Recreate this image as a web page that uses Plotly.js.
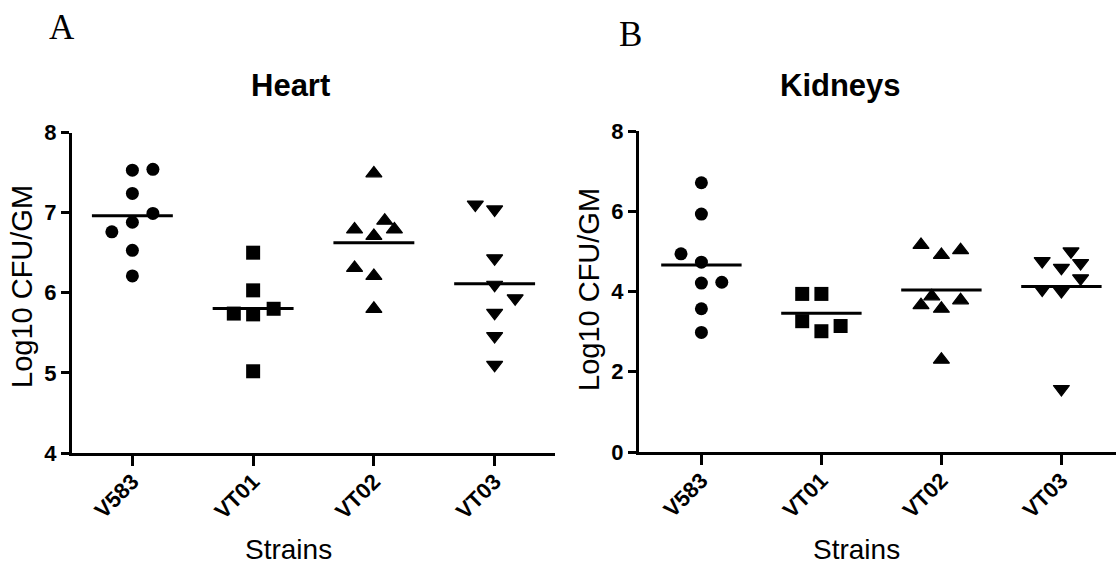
<!DOCTYPE html>
<html>
<head>
<meta charset="utf-8">
<script src="https://cdn.plot.ly/plotly-3.0.1.min.js"></script>
<style>
  html, body { margin: 0; padding: 0; background: #ffffff; }
  #chart { width: 1116px; height: 565px; }
</style>
</head>
<body>
<div id="chart"></div>
<script>
// Bacterial load (log10 CFU per gram of tissue) for each strain
const strains = ["V583", "VT01", "VT02", "VT03"];

// Heart
const heartV583 = [7.53, 7.54, 7.24, 6.99, 6.88, 6.76, 6.53, 6.21];
const heartVT01 = [6.50, 6.03, 5.74, 5.73, 5.80, 5.02];
const heartVT02 = [7.49, 6.79, 6.90, 6.79, 6.71, 6.31, 6.21, 5.80];
const heartVT03 = [7.10, 7.04, 6.43, 6.10, 5.93, 5.75, 5.46, 5.10];

// Kidneys
const kidneyV583 = [6.71, 5.93, 4.94, 4.73, 4.21, 4.23, 3.57, 2.98];
const kidneyVT01 = [3.94, 3.94, 3.26, 3.01, 3.14];
const kidneyVT02 = [5.16, 4.91, 5.03, 3.88, 3.66, 3.57, 3.78, 2.30];
const kidneyVT03 = [4.76, 4.59, 5.00, 4.71, 4.33, 4.05, 4.01, 1.57];

// Horizontal spread of tied points within each column (category units)
const heartSpreadV583 = [0, 0.17, 0, 0.17, 0, -0.17, 0, 0];
const heartSpreadVT01 = [0, 0, -0.16, 0, 0.17, 0];
const heartSpreadVT02 = [0, -0.16, 0.09, 0.17, 0, -0.16, 0, 0];
const heartSpreadVT03 = [-0.16, 0, 0, 0, 0.17, 0, 0, 0];
const kidneySpreadV583 = [0, 0, -0.17, 0, 0, 0.17, 0, 0];
const kidneySpreadVT01 = [-0.16, 0, -0.16, 0, 0.16];
const kidneySpreadVT02 = [-0.17, 0, 0.16, -0.08, -0.17, 0, 0.16, 0];
const kidneySpreadVT03 = [-0.16, 0, 0.08, 0.16, 0.16, -0.16, 0, 0];

const symbols = ["circle", "square", "triangle-up", "triangle-down"];
const symbolSizes = [13, 14, 14, 14];
const symbolOutline = [0, 0, 1.2, 1.2];

const FONT = "Liberation Sans, Arial, Helvetica, sans-serif";
const SERIF = "Liberation Serif, Times New Roman, serif";
const W = 1116, H = 565;
const px = x => x / W;          // pixel -> paper x
const py = y => 1 - y / H;      // pixel -> paper y

const mean = a => a.reduce((s, v) => s + v, 0) / a.length;

function panelTraces(groups, spreads, xa, ya) {
  const traces = [];
  groups.forEach((vals, i) => {
    traces.push({
      type: "scatter", mode: "markers", xaxis: xa, yaxis: ya,
      x: vals.map((v, k) => i + spreads[i][k]), y: vals,
      marker: { symbol: symbols[i], size: symbolSizes[i], color: "#000000",
                line: { width: symbolOutline[i], color: "#000000" } },
      hoverinfo: "y", cliponaxis: false
    });
    const m = mean(vals);
    traces.push({
      type: "scatter", mode: "lines", xaxis: xa, yaxis: ya,
      x: [i - 0.335, i + 0.335], y: [m, m],
      line: { color: "#000000", width: 3 }, hoverinfo: "skip"
    });
  });
  return traces;
}

const data = [].concat(
  panelTraces([heartV583, heartVT01, heartVT02, heartVT03],
              [heartSpreadV583, heartSpreadVT01, heartSpreadVT02, heartSpreadVT03], "x", "y"),
  panelTraces([kidneyV583, kidneyVT01, kidneyVT02, kidneyVT03],
              [kidneySpreadV583, kidneySpreadVT01, kidneySpreadVT02, kidneySpreadVT03], "x2", "y2")
);

function xAxis(domain, range, anchor) {
  return {
    domain: domain, range: range, anchor: anchor,
    tickmode: "array", tickvals: [0, 1, 2, 3], ticktext: strains,
    tickangle: -45, ticks: "outside", ticklen: 10, tickwidth: 3, tickcolor: "#000",
    ticklabelstandoff: -6,
    showline: true, linewidth: 3, linecolor: "#000",
    showgrid: false, zeroline: false, fixedrange: true,
    tickfont: { family: FONT, size: 22, color: "#000", weight: "bold" }
  };
}
function yAxis(domain, range, dtick, anchor) {
  return {
    domain: domain, range: range, anchor: anchor, dtick: dtick, tick0: 0,
    ticks: "outside", ticklen: 8, tickwidth: 3, tickcolor: "#000",
    showline: true, linewidth: 3, linecolor: "#000",
    showgrid: false, zeroline: false, fixedrange: true,
    tickfont: { family: FONT, size: 22, color: "#000", weight: "bold" }
  };
}

function label(text, x, y, font, opts) {
  return Object.assign({
    text: text, xref: "paper", yref: "paper", x: px(x), y: py(y),
    xanchor: "center", yanchor: "middle", showarrow: false,
    font: Object.assign({ family: FONT, color: "#000" }, font)
  }, opts || {});
}

const layout = {
  width: W, height: H,
  margin: { l: 0, r: 0, t: 0, b: 0, pad: 0 },
  paper_bgcolor: "#ffffff", plot_bgcolor: "#ffffff",
  showlegend: false,
  xaxis: xAxis([px(72), px(555)], [-0.5, 3.5], "y"),
  yaxis: yAxis([py(453), py(132.5)], [4, 8], 1, "x"),
  xaxis2: xAxis([px(639), 1], [-0.52, 3.455], "y2"),
  yaxis2: yAxis([py(452), py(131)], [0, 8], 2, "x2"),
  annotations: [
    label("A", 62, 28, { family: SERIF, size: 35 }),
    label("B", 630, 34, { family: SERIF, size: 35 }),
    label("Heart", 290, 86, { size: 31, weight: "bold" }),
    label("Kidneys", 840, 85, { size: 31, weight: "bold" }),
    label("Log10 CFU/GM", 22, 287, { size: 29 }, { textangle: -90 }),
    label("Log10 CFU/GM", 589, 290, { size: 29 }, { textangle: -90 }),
    label("Strains", 289, 549, { size: 28 }),
    label("Strains", 857, 549, { size: 28 })
  ]
};

Plotly.newPlot("chart", data, layout, { displayModeBar: false, staticPlot: true });
</script>
</body>
</html>
